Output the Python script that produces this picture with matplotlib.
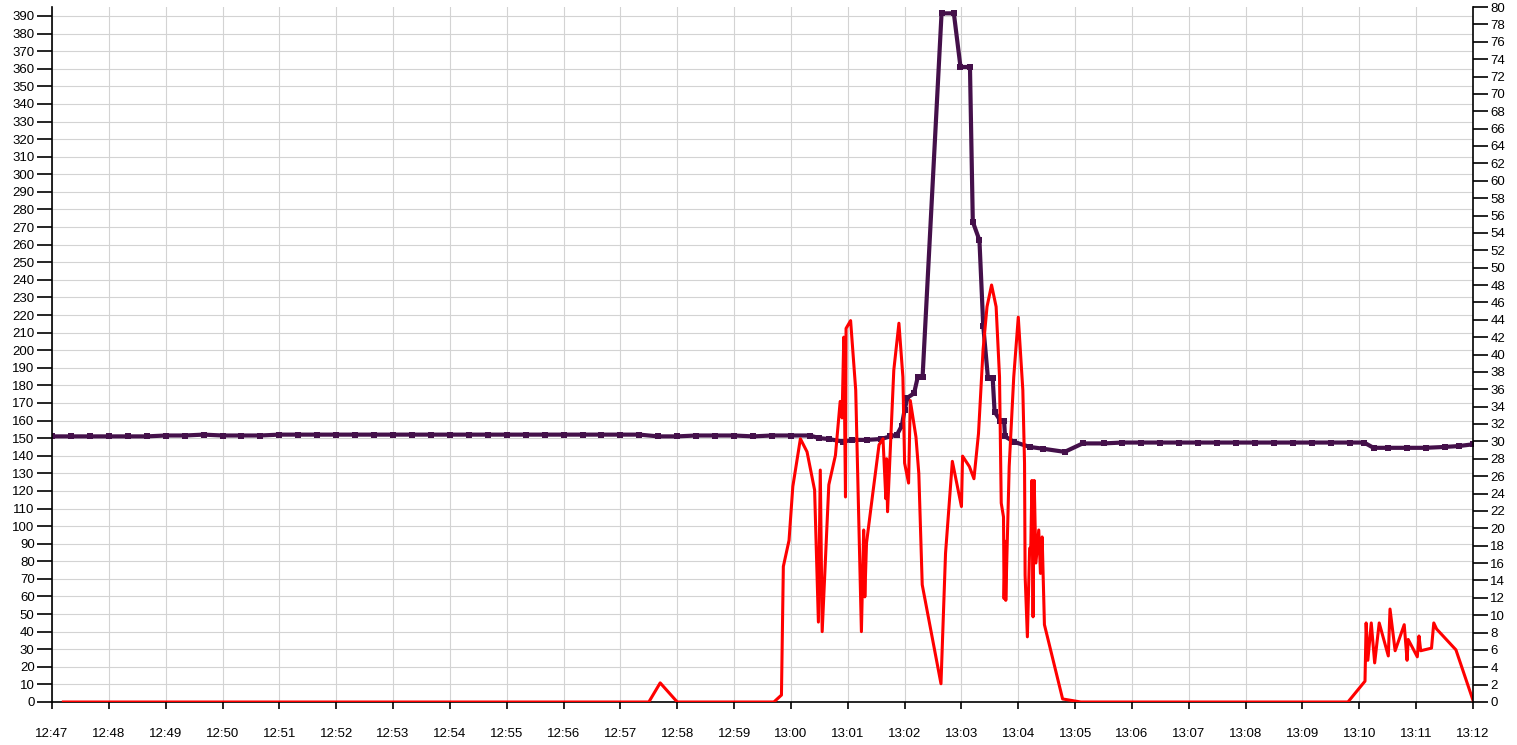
import pandas as pd
import matplotlib.pyplot as plt
import matplotlib.dates as mdates

DAY = '2024-01-01 '

# purple series (left axis)
purple_times = [
    '12:47:00', '12:47:20', '12:47:40', '12:48:00', '12:48:20', '12:48:40',
    '12:49:00', '12:49:20', '12:49:40', '12:50:00', '12:50:20', '12:50:40',
    '12:51:00', '12:51:20', '12:51:40', '12:52:00', '12:52:20', '12:52:40',
    '12:53:00', '12:53:20', '12:53:40', '12:54:00', '12:54:20', '12:54:40',
    '12:55:00', '12:55:20', '12:55:40', '12:56:00', '12:56:20', '12:56:40',
    '12:57:00', '12:57:20', '12:57:40', '12:58:00', '12:58:20', '12:58:40',
    '12:59:00', '12:59:20', '12:59:40', '13:00:00', '13:00:20', '13:00:30',
    '13:00:40', '13:00:55', '13:01:05', '13:01:20', '13:01:35', '13:01:45',
    '13:01:52', '13:01:57', '13:02:00', '13:02:03', '13:02:10', '13:02:14',
    '13:02:19', '13:02:39', '13:02:52', '13:02:59', '13:03:09', '13:03:12',
    '13:03:19', '13:03:23', '13:03:28', '13:03:33', '13:03:35', '13:03:41',
    '13:03:45', '13:03:46', '13:03:55', '13:04:12', '13:04:26', '13:04:49',
    '13:05:08', '13:05:30', '13:05:50', '13:06:10', '13:06:30', '13:06:50',
    '13:07:10', '13:07:30', '13:07:50', '13:08:10', '13:08:30', '13:08:50',
    '13:09:10', '13:09:30', '13:09:50', '13:10:05', '13:10:15', '13:10:30',
    '13:10:50', '13:11:10', '13:11:30', '13:11:45', '13:12:00',
]
purple_values = [
    151.0, 151.0, 151.0, 151.0, 151.0, 151.0,
    151.5, 151.5, 152.0, 151.5, 151.5, 151.5,
    152.0, 152.0, 152.0, 152.0, 152.0, 152.0,
    152.0, 152.0, 152.0, 152.0, 152.0, 152.0,
    152.0, 152.0, 152.0, 152.0, 152.0, 152.0,
    152.0, 152.0, 151.0, 151.0, 151.5, 151.5,
    151.5, 151.0, 151.5, 151.5, 151.5, 150.0,
    149.5, 148.0, 149.0, 149.0, 149.5, 151.0,
    152.0, 157.0, 166.0, 173.0, 175.5, 185.0,
    185.0, 391.5, 391.5, 361.0, 361.0, 273.0,
    262.5, 214.0, 184.0, 184.0, 165.0, 160.0,
    160.0, 151.0, 148.0, 145.0, 144.0, 142.2,
    147.0, 147.0, 147.5, 147.5, 147.5, 147.5,
    147.5, 147.5, 147.5, 147.5, 147.5, 147.5,
    147.5, 147.5, 147.5, 147.5, 144.5, 144.5,
    144.5, 144.5, 145.0, 145.5, 146.5,
]

# red series (right axis)
red_times = [
    '12:47:12', '12:57:30', '12:57:42', '12:58:00', '12:59:42', '12:59:50',
    '12:59:52', '12:59:58', '13:00:02', '13:00:10', '13:00:17', '13:00:25',
    '13:00:29', '13:00:31', '13:00:33', '13:00:40', '13:00:47', '13:00:52',
    '13:00:54', '13:00:55.8', '13:00:57.6', '13:00:58.2', '13:01:03', '13:01:08.4',
    '13:01:14.4', '13:01:16.8', '13:01:18', '13:01:19.8', '13:01:26.4', '13:01:33',
    '13:01:37.2', '13:01:40.2', '13:01:41', '13:01:42', '13:01:48.6', '13:01:54',
    '13:01:58.2', '13:02:00', '13:02:04.2', '13:02:06', '13:02:12', '13:02:15',
    '13:02:18.6', '13:02:38.4', '13:02:43.2', '13:02:50.4', '13:03:00', '13:03:01.2',
    '13:03:08.4', '13:03:13.2', '13:03:18', '13:03:22.8', '13:03:27', '13:03:31.8',
    '13:03:36.6', '13:03:40.2', '13:03:42', '13:03:44.4', '13:03:45', '13:03:46.2',
    '13:03:46.8', '13:03:50.4', '13:03:55.2', '13:04:00', '13:04:04.8', '13:04:06.6',
    '13:04:07.2', '13:04:09.6', '13:04:12', '13:04:13.2', '13:04:14.4', '13:04:15.6',
    '13:04:16.8', '13:04:18.6', '13:04:21.6', '13:04:23.4', '13:04:25.2', '13:04:27.6',
    '13:04:46.8', '13:05:06', '13:09:48', '13:10:06', '13:10:07.2', '13:10:09',
    '13:10:12.6', '13:10:16.2', '13:10:21', '13:10:30.6', '13:10:32.4', '13:10:37.8',
    '13:10:47.4', '13:10:50.4', '13:10:51.6', '13:11:01.2', '13:11:03', '13:11:04.8',
    '13:11:16.2', '13:11:18.6', '13:11:21.6', '13:11:42', '13:12:00',
]
red_values = [
    0.0, 0.0, 2.2, 0.0, 0.0, 0.8,
    15.6, 18.6, 24.8, 30.3, 28.8, 24.4,
    9.2, 26.7, 8.1, 25.0, 28.4, 34.6,
    32.7, 42.0, 23.6, 43.0, 43.9, 35.9,
    8.1, 19.8, 12.1, 18.3, 24.0, 29.6,
    30.3, 23.4, 28.0, 21.9, 38.2, 43.6,
    37.4, 27.5, 25.2, 34.7, 30.5, 26.3,
    13.5, 2.1, 17.1, 27.7, 22.5, 28.3,
    27.1, 25.7, 30.9, 40.5, 45.5, 48.0,
    45.5, 37.4, 22.9, 21.3, 11.9, 18.5,
    11.7, 27.1, 37.4, 44.3, 35.9, 27.5,
    14.6, 7.5, 17.7, 17.7, 25.5, 9.8,
    25.5, 16.0, 19.8, 14.8, 19.0, 8.9,
    0.35, 0.0, 0.0, 2.4, 9.1, 4.8,
    9.1, 4.5, 9.1, 5.3, 10.7, 5.9,
    8.9, 4.8, 7.2, 5.2, 7.6, 5.9,
    6.2, 9.1, 8.4, 6.0, 0.2,
]

left_ticks = list(range(0, 391, 10))
right_ticks = list(range(0, 81, 2))

pt = pd.to_datetime([DAY + t for t in purple_times], format='mixed')
rt = pd.to_datetime([DAY + t for t in red_times], format='mixed')

plt.rcParams['font.family'] = ['Liberation Sans', 'DejaVu Sans']

fig = plt.figure(figsize=(15.17, 7.45), dpi=100)
ax1 = fig.add_axes([52 / 1517, 43 / 745, 1421 / 1517, 695 / 745])
ax2 = ax1.twinx()

ax1.plot(pt, purple_values, color='#44104a', lw=3.0, marker='s', ms=4.2,
         mew=0, solid_joinstyle='miter')
ax2.plot(rt, red_values, color='#ff0000', lw=2.2)

ax1.set_xlim(pd.Timestamp(DAY + '12:47:00'), pd.Timestamp(DAY + '13:12:00'))
ax1.set_ylim(0, 395.1)
ax2.set_ylim(0, 80)

ax1.set_yticks(left_ticks)
ax2.set_yticks(right_ticks)
ax1.xaxis.set_major_locator(mdates.MinuteLocator())
ax1.xaxis.set_major_formatter(mdates.DateFormatter('%H:%M'))

ax1.grid(True, color='#d3d3d3', lw=0.8)
ax1.set_axisbelow(True)

for ax in (ax1, ax2):
    ax.spines['top'].set_visible(False)
    for s in ('left', 'right', 'bottom'):
        ax.spines[s].set_linewidth(1.2)
ax1.spines['right'].set_visible(False)
ax2.spines['left'].set_visible(False)
ax2.spines['bottom'].set_visible(False)

ax1.tick_params(axis='y', length=11, width=1.2, pad=1.5, labelsize=9.5)
ax2.tick_params(axis='y', length=11, width=1.2, pad=1.5, labelsize=9.5)
ax1.tick_params(axis='x', length=5, width=1.2, pad=14, labelsize=9.5)

fig.savefig('out.png', dpi=100)
